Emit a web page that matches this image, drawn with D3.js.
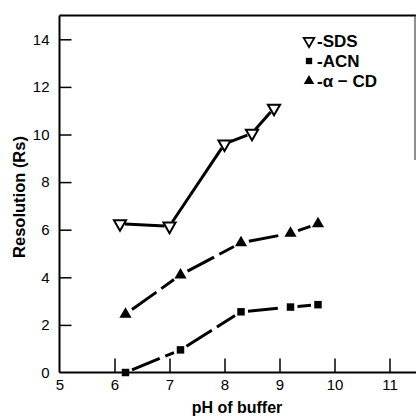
<!DOCTYPE html>
<html>
<head>
<meta charset="utf-8">
<script src="https://cdn.jsdelivr.net/npm/d3@7"></script>
<style>
  body { margin: 0; background: #fff; }
  svg { display: block; }
  text { font-family: "Liberation Sans", Arial, sans-serif; fill: #000; }
</style>
</head>
<body>
<div id="graph"></div>
<script>
// values
var xTicks = [5, 6, 7, 8, 9, 10, 11];
var yTicks = [0, 2, 4, 6, 8, 10, 12, 14];

var sdsPH = [6.1, 7.0, 8.0, 8.5, 8.9];
var sdsRs = [6.25, 6.15, 9.6, 10.05, 11.1];

var acnPH = [6.2, 7.2, 8.3, 9.2, 9.7];
var acnRs = [0.0, 0.95, 2.55, 2.75, 2.85];

var cdPH = [6.2, 7.2, 8.3, 9.2, 9.7];
var cdRs = [2.45, 4.1, 5.45, 5.85, 6.25];

var seriesNames = ["-SDS", "-ACN", "-\u03b1 \u2212 CD"];

var width = 416, height = 416;
var x = d3.scaleLinear().domain([5, 11.5]).range([59.5, 417]);
var y = d3.scaleLinear().domain([0, 15]).range([372.5, 15.5]);

var svg = d3.select("#graph").append("svg")
    .attr("width", width).attr("height", height);

// frame
svg.append("line")
    .attr("x1", x(5)).attr("x2", x(5))
    .attr("y1", y(15)).attr("y2", y(0))
    .attr("stroke", "#000").attr("stroke-width", 2);
svg.append("line")
    .attr("x1", x(5)).attr("x2", width)
    .attr("y1", y(0)).attr("y2", y(0))
    .attr("stroke", "#000").attr("stroke-width", 2);
svg.append("line")
    .attr("x1", x(5)).attr("x2", width)
    .attr("y1", y(15)).attr("y2", y(15))
    .attr("stroke", "#000").attr("stroke-width", 2);
svg.append("line")
    .attr("x1", 415).attr("x2", 415)
    .attr("y1", y(15)).attr("y2", 160)
    .attr("stroke", "#444").attr("stroke-width", 1.2);

// axes with inward ticks
var xAxis = d3.axisBottom(x).tickValues(xTicks).tickSize(-14).tickPadding(5)
    .tickFormat(d3.format("d"));
var gx = svg.append("g").attr("transform", `translate(0,${y(0)})`).call(xAxis);
gx.select(".domain").remove();
gx.selectAll(".tick line").attr("stroke", "#000").attr("stroke-width", 1.5);
gx.selectAll(".tick text")
    .style("font-size", "15px").attr("dy", "0.85em");
gx.selectAll(".tick").filter(d => d == 5).select("line").remove();

var yAxis = d3.axisLeft(y).tickValues(yTicks).tickSize(-12).tickPadding(10)
    .tickFormat(d3.format("d"));
var gy = svg.append("g").attr("transform", `translate(${x(5)},0)`).call(yAxis);
gy.select(".domain").remove();
gy.selectAll(".tick line").attr("stroke", "#000").attr("stroke-width", 1.5);
gy.selectAll(".tick text").style("font-size", "15px");
gy.selectAll(".tick").filter(d => d == 0).select("line").remove();

// axis titles
svg.append("text")
    .attr("x", 237).attr("y", 413)
    .attr("text-anchor", "middle")
    .style("font-size", "16px").style("font-weight", "bold")
    .text("pH of buffer");
svg.append("text")
    .attr("transform", "translate(25,197) rotate(-90)")
    .attr("text-anchor", "middle")
    .style("font-size", "16.5px").style("font-weight", "bold")
    .text("Resolution (Rs)");

// marker shapes
var triDown = d3.symbol().type(d3.symbolTriangle).size(64);
var triUp = d3.symbol().type(d3.symbolTriangle).size(64);
var sq = d3.symbol().type(d3.symbolSquare).size(56);

function drawSeries(ph, rs, dash, gap) {
    var pts = ph.map((p, i) => [x(p), y(rs[i])]);
    var segs = [];
    for (var i = 0; i < pts.length - 1; i++) {
        var a = pts[i], b = pts[i + 1];
        var dx = b[0] - a[0], dy = b[1] - a[1], len = Math.hypot(dx, dy);
        var ux = dx / len, uy = dy / len;
        segs.push([a[0] + ux * gap, a[1] + uy * gap, b[0] - ux * gap, b[1] - uy * gap]);
    }
    svg.append("g").selectAll("line")
        .data(segs)
        .join("line")
        .attr("x1", d => d[0]).attr("y1", d => d[1])
        .attr("x2", d => d[2]).attr("y2", d => d[3])
        .attr("stroke", "#000").attr("stroke-width", 3)
        .attr("stroke-dasharray", dash);
    return pts;
}

var sdsPts = drawSeries(sdsPH, sdsRs, null, 5);
var cdPts = drawSeries(cdPH, cdRs, "30,6", 8);
var acnPts = drawSeries(acnPH, acnRs, "30,6", 7);

svg.append("g").selectAll("path")
    .data(sdsPts)
    .join("path")
    .attr("d", triDown)
    .attr("transform", d => `translate(${d[0]},${d[1]}) rotate(180)`)
    .attr("fill", "#fff").attr("stroke", "#000").attr("stroke-width", 2);

svg.append("g").selectAll("path")
    .data(cdPts)
    .join("path")
    .attr("d", triUp)
    .attr("transform", d => `translate(${d[0]},${d[1]})`)
    .attr("fill", "#000");

svg.append("g").selectAll("path")
    .data(acnPts)
    .join("path")
    .attr("d", sq)
    .attr("transform", d => `translate(${d[0]},${d[1]})`)
    .attr("fill", "#000");

// legend
var legY = [41, 61, 81];
var legend = svg.append("g");
legend.append("path").attr("d", d3.symbol().type(d3.symbolTriangle).size(48))
    .attr("transform", `translate(309,${legY[0]}) rotate(180)`)
    .attr("fill", "#fff").attr("stroke", "#000").attr("stroke-width", 1.8);
legend.append("path").attr("d", d3.symbol().type(d3.symbolSquare).size(40))
    .attr("transform", `translate(309,${legY[1]})`)
    .attr("fill", "#000");
legend.append("path").attr("d", d3.symbol().type(d3.symbolTriangle).size(48))
    .attr("transform", `translate(309,${legY[2]})`)
    .attr("fill", "#000");
legend.selectAll("text")
    .data(seriesNames)
    .join("text")
    .attr("x", 317)
    .attr("y", (d, i) => legY[i])
    .attr("dy", "0.36em")
    .style("font-size", "17px").style("font-weight", "bold")
    .text(d => d);
</script>
</body>
</html>
